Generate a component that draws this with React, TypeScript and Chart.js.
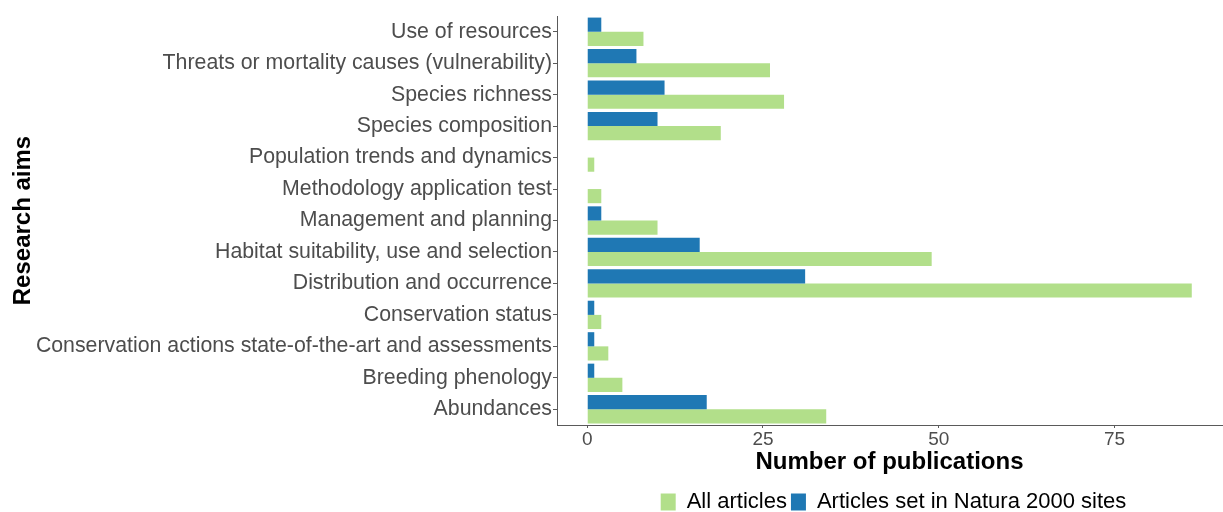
import React, { useEffect, useRef } from "react";
import { Chart, registerables } from "chart.js";

Chart.register(...registerables);

const categories = [
  "Use of resources",
  "Threats or mortality causes (vulnerability)",
  "Species richness",
  "Species composition",
  "Population trends and dynamics",
  "Methodology application test",
  "Management and planning",
  "Habitat suitability, use and selection",
  "Distribution and occurrence",
  "Conservation status",
  "Conservation actions state-of-the-art and assessments",
  "Breeding phenology",
  "Abundances",
];

const natura2000 = [2, 7, 11, 10, 0, 0, 2, 16, 31, 1, 1, 1, 17];
const allArticles = [8, 26, 28, 19, 1, 2, 10, 49, 86, 2, 3, 5, 34];

const xTicks = [0, 25, 50, 75];

const FONT = "'Liberation Sans', Arial, sans-serif";

const legendShift = {
  id: "legendShift",
  afterLayout(chart: any) {
    const lg = chart.legend;
    if (lg) {
      lg.left += 4;
      lg.right += 4;
    }
  },
};

export default function App() {
  const ref = useRef<HTMLCanvasElement | null>(null);

  useEffect(() => {
    if (!ref.current) return;
    const chart = new Chart(ref.current, {
      type: "bar",
      data: {
        labels: categories,
        datasets: [
          {
            label: "Articles set in Natura 2000 sites",
            data: natura2000,
            backgroundColor: "#1f78b4",
            borderWidth: 0,
            categoryPercentage: 0.9,
            barPercentage: 1,
          },
          {
            label: "All articles",
            data: allArticles,
            backgroundColor: "#b2df8a",
            borderWidth: 0,
            categoryPercentage: 0.9,
            barPercentage: 1,
          },
        ],
      },
      plugins: [legendShift],
      options: {
        indexAxis: "y",
        responsive: false,
        devicePixelRatio: 1,
        animation: false,
        layout: { padding: { top: 16, right: 1, left: 0, bottom: 0 } },
        plugins: {
          tooltip: { enabled: false },
          legend: {
            position: "bottom",
            reverse: true,
            fullSize: false,
            maxHeight: 25,
            labels: {
              boxWidth: 15,
              boxHeight: 17,
              padding: 4,
              color: "#000",
              font: { family: FONT, size: 22 },
            },
          },
        },
        scales: {
          x: {
            type: "linear",
            min: -4.3,
            max: 90.3,
            afterBuildTicks: (scale: any) => {
              scale.ticks = xTicks.map((v) => ({ value: v }));
            },
            afterFit: (scale: any) => {
              scale.height = 62;
            },
            grid: {
              drawOnChartArea: false,
              drawTicks: true,
              tickLength: 3,
              color: "#5a5a5a",
            },
            border: { display: true, color: "#5a5a5a", width: 1 },
            ticks: {
              padding: 0,
              color: "#4d4d4d",
              font: { family: FONT, size: 19 },
              maxRotation: 0,
            },
            title: {
              display: true,
              text: "Number of publications",
              color: "#000",
              font: { family: FONT, size: 24, weight: "bold" },
              padding: { top: 0, bottom: 10 },
            },
          },
          y: {
            afterFit: (scale: any) => {
              scale.width = 557;
            },
            grid: {
              offset: false,
              drawOnChartArea: false,
              drawTicks: true,
              tickLength: 4,
              color: "#5a5a5a",
            },
            border: { display: true, color: "#5a5a5a", width: 1 },
            ticks: {
              padding: 1,
              color: "#4d4d4d",
              font: { family: FONT, size: 21.3 },
              autoSkip: false,
            },
            title: {
              display: true,
              text: "Research aims",
              color: "#000",
              font: { family: FONT, size: 24, weight: "bold" },
              padding: { top: 9, bottom: 0 },
            },
          },
        },
      },
    });
    return () => chart.destroy();
  }, []);

  return (
    <div style={{ position: "absolute", left: 0, top: 0, width: 1223, height: 512, background: "#fff" }}>
      <canvas ref={ref} width={1223} height={512} style={{ width: 1223, height: 512, display: "block" }} />
    </div>
  );
}
